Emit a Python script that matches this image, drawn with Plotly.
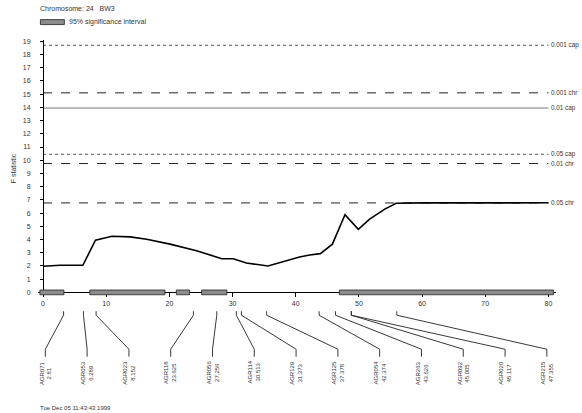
import numpy as np
import plotly.graph_objects as go

# ---- data ----
pos_cM = [0, 2.7, 6.3, 8.3, 10.9, 13.8, 16.4, 20.1, 24.3, 28.3, 30.1, 32.2, 35.6, 38.0,
          40.6, 42.2, 43.9, 45.8, 47.8, 49.9, 51.7, 54.1, 55.9, 60, 70, 80]
f_stat = [1.98, 2.05, 2.05, 3.95, 4.25, 4.2, 4.02, 3.65, 3.15, 2.55, 2.55, 2.22, 2.0, 2.33,
          2.68, 2.83, 2.93, 3.65, 5.88, 4.77, 5.55, 6.3, 6.75, 6.77, 6.78, 6.78]

threshold_names = ["0.001 cap", "0.001 chr", "0.01 cap", "0.05 cap", "0.01 chr", "0.05 chr"]
threshold_values = [18.7, 15.1, 13.95, 10.45, 9.75, 6.77]

interval_start = [-0.5, 7.4, 21.1, 25.1, 46.9]
interval_end = [3.3, 19.3, 23.2, 29.1, 80.8]

marker_names = ["AGR071", "AGR053", "AGR023", "AGR118", "AGR056", "AGR114", "AGR129",
                "AGR125", "AGR054", "AGR263", "AGR092", "AGR020", "AGR215"]
marker_labels = ["2.81", "6.289", "8.152", "23.625", "27.256", "30.513", "31.373",
                 "37.378", "42.374", "43.626", "45.005", "45.117", "47.355"]
marker_pos = [3.25, 6.4, 8.4, 23.8, 27.5, 30.6, 31.4, 35.4, 43.7, 46.3, 48.8, 48.8, 56.0]

x_ticks = [0, 10, 20, 30, 40, 50, 60, 70, 80]
y_ticks = list(range(0, 20))

# ---- layout geometry ----
W, H = 582, 413
XR = [-0.8, 81.2]
YR = [-0.35, 19.1]
ML, MR, MT, MB = 37.6, 26.1, 40.4, 115.7
PW, PH = W - ML - MR, H - MT - MB

def px_x(px):
    return (px - ML) / PW

def px_y(py):
    return (H - MB - py) / PH

FONT = "Liberation Sans, Arial, sans-serif"
TXT = "#333333"

fig = go.Figure()
fig.add_trace(go.Scatter(x=pos_cM, y=f_stat, mode="lines",
                         line=dict(color="black", width=1.6), showlegend=False,
                         hoverinfo="x+y"))

styles = {
    "0.001 cap": dict(dash="dot", color="#555555", width=1),
    "0.001 chr": dict(dash="dash", color="#222222", width=1),
    "0.01 cap": dict(dash="solid", color="#777777", width=1),
    "0.05 cap": dict(dash="dot", color="#555555", width=1),
    "0.01 chr": dict(dash="dash", color="#222222", width=1),
    "0.05 chr": dict(dash="dash", color="#222222", width=1),
}
for name, val in zip(threshold_names, threshold_values):
    fig.add_shape(type="line", xref="x", yref="y", x0=0, x1=x_ticks[-1], y0=val, y1=val,
                  line=styles[name], layer="below")
    fig.add_annotation(x=x_ticks[-1], y=val, xref="x", yref="y", text=name,
                       showarrow=False, xanchor="left", xshift=1,
                       font=dict(size=6.3, color=TXT, family=FONT))

for s, e in zip(interval_start, interval_end):
    fig.add_shape(type="rect", xref="x", yref="y", x0=s, x1=e, y0=-0.18, y1=0.18,
                  fillcolor="#8c8c8c", line=dict(color="#222222", width=0.8))

# marker leader lines and labels
lab_x = np.linspace(0.36, 79.75, len(marker_names))
y_top, y_bend1, y_bend2, y_bot = px_y(311.5), px_y(315.5), px_y(349.5), px_y(357)
for mp, lx, nm, lb in zip(marker_pos, lab_x, marker_names, marker_labels):
    fig.add_shape(type="path", xref="x", yref="paper",
                  path=f"M {mp},{y_top} L {mp},{y_bend1} L {lx},{y_bend2} L {lx},{y_bot}",
                  line=dict(color="#222222", width=0.9))
    fig.add_annotation(x=lx, y=px_y(360), xref="x", yref="paper",
                       text=f"{nm}<br>{lb}", showarrow=False, textangle=-90,
                       xanchor="center", yanchor="top", borderpad=0,
                       font=dict(size=6, color=TXT, family=FONT))

# title, legend, footer
fig.add_annotation(x=px_x(38), y=px_y(9), xref="paper", yref="paper",
                   text="Chromosome: 24   BW3", showarrow=False, xanchor="left",
                   yanchor="middle", font=dict(size=7, color=TXT, family=FONT))
fig.add_shape(type="rect", xref="paper", yref="paper", x0=px_x(40), x1=px_x(64),
              y0=px_y(25), y1=px_y(20), fillcolor="#8c8c8c",
              line=dict(color="#222222", width=0.8))
fig.add_annotation(x=px_x(67), y=px_y(22.5), xref="paper", yref="paper",
                   text="95% significance interval", showarrow=False, xanchor="left",
                   yanchor="middle", font=dict(size=7, color=TXT, family=FONT))
fig.add_annotation(x=px_x(38), y=px_y(408), xref="paper", yref="paper",
                   text="Tue Dec 05 11:43:43 1999", showarrow=False, xanchor="left",
                   yanchor="middle", font=dict(size=6, color=TXT, family=FONT))

fig.update_layout(
    width=W, height=H,
    margin=dict(l=ML, r=MR, t=MT, b=MB, pad=0),
    paper_bgcolor="white", plot_bgcolor="white",
    showlegend=False,
    xaxis=dict(range=XR, tickvals=x_ticks, ticktext=[str(t) for t in x_ticks],
               showgrid=False, zeroline=False, showline=True, linecolor="black",
               linewidth=1, ticks="outside", ticklen=4, tickcolor="black",
               anchor="free", position=(0 - YR[0]) / (YR[1] - YR[0]),
               tickfont=dict(size=7, color=TXT, family=FONT)),
    yaxis=dict(range=YR, tickvals=y_ticks, ticktext=[str(t) for t in y_ticks],
               showgrid=False, zeroline=False, showline=True, linecolor="black",
               linewidth=1, ticks="outside", ticklen=3, tickcolor="black",
               anchor="free", position=(0 - XR[0]) / (XR[1] - XR[0]),
               ticklabelstandoff=8,
               title=dict(text="F statistic", standoff=4,
                          font=dict(size=7, color=TXT, family=FONT)),
               tickfont=dict(size=7, color=TXT, family=FONT)),
)

fig.write_html("out.html")
